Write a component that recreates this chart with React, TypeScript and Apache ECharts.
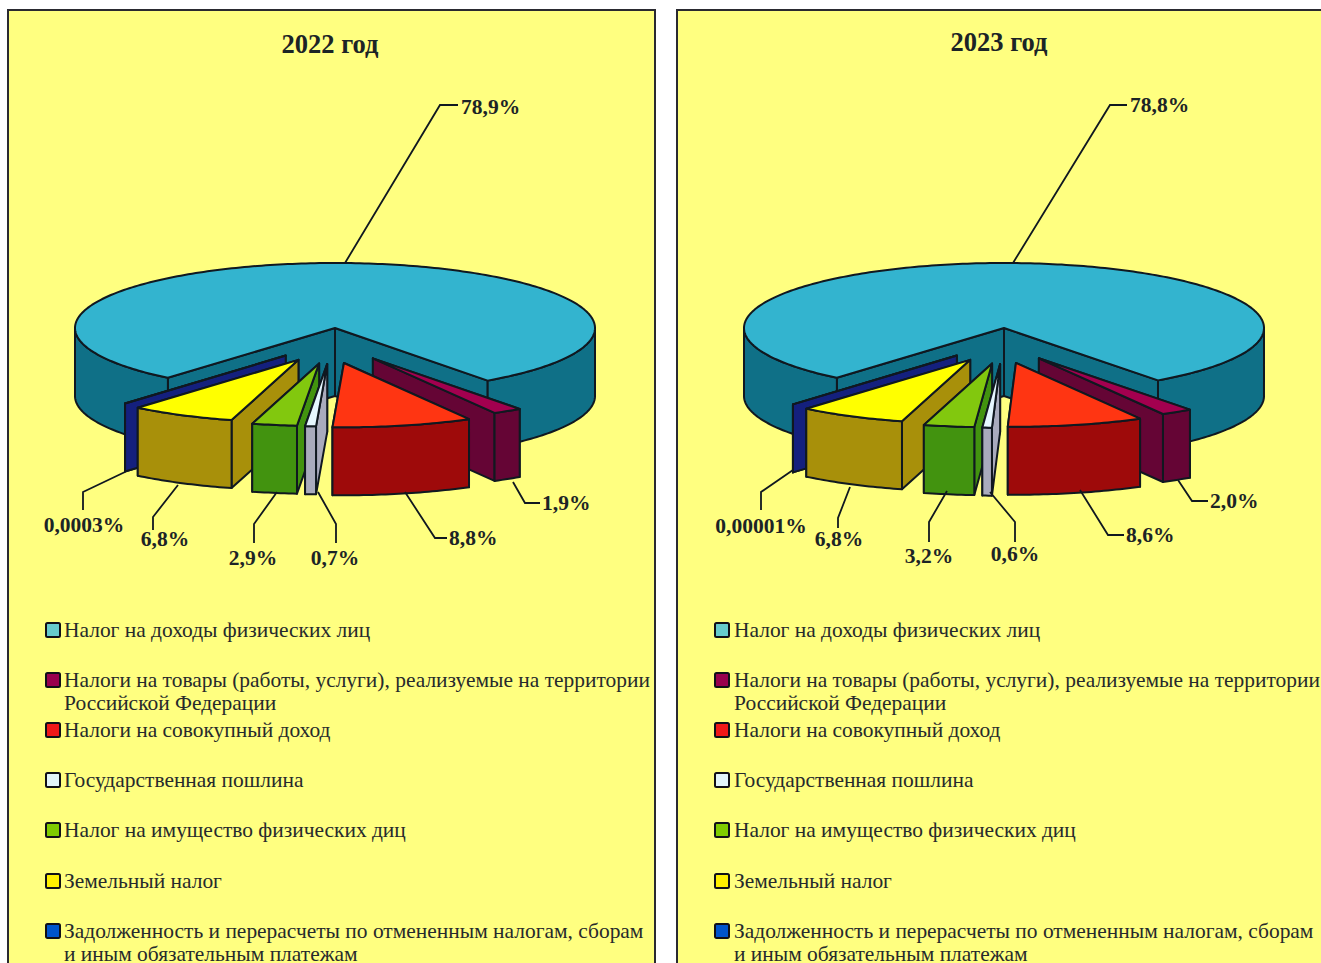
import React, { useEffect, useRef } from "react";
import * as echarts from "echarts";

const W = 1321;
const H = 963;

const years = ["2022 год", "2023 год"];
const values2022 = [78.9, 1.9, 8.8, 0.7, 2.9, 6.8, 0.0003];
const values2023 = [78.8, 2.0, 8.6, 0.6, 3.2, 6.8, 0.00001];
const labels2022 = ["78,9%", "1,9%", "8,8%", "0,7%", "2,9%", "6,8%", "0,0003%"];
const labels2023 = ["78,8%", "2,0%", "8,6%", "0,6%", "3,2%", "6,8%", "0,00001%"];
const categories = [
  ["Налог на доходы физических лиц"],
  ["Налоги на товары (работы, услуги), реализуемые на территории", "Российской Федерации"],
  ["Налоги на совокупный доход"],
  ["Государственная пошлина"],
  ["Налог на имущество физических диц"],
  ["Земельный налог"],
  ["Задолженность и перерасчеты по отмененным налогам, сборам", "и иным обязательным платежам"],
];
const topColors = ["#33B4CF", "#A3004F", "#FF3512", "#E6F7FF", "#82C80E", "#FFFF00", "#14207E"];
const sideColors = ["#0F7087", "#650535", "#9E0A0A", "#A9ABBD", "#42930F", "#A8900A", "#14207E"];
const legendColors = ["#66CCCC", "#99004D", "#F01818", "#E2F5FA", "#80CC00", "#FFF000", "#0055CC"];

const PANEL_FILL = "#FFFF80";
const INK = "#101820";
const SERIF = '"Liberation Serif", serif';

// Layout of the two panels
const panels = [
  {
    x: 8, w: 647, cx: 335, titleY: 44, legendBox: 45, legendText: 64,
    shift: -3,
    explodeX: [0, 76, 52, 72, 72, 72, 72],
    radii: [260, 250, 257, 250, 250, 250, 250],
  },
  {
    x: 677, w: 700, cx: 1004, titleY: 42, legendBox: 714, legendText: 734,
    shift: 3,
    explodeX: [0, 59, 38, 135, 88, 79, 78],
    radii: [260, 255, 255, 255, 255, 255, 255],
  },
];
const CY = 328;
const TILT = 0.25;
const DEPTH = 68;
const START_DEG = 130;
const EXPLODE_Y = 36;
const legendRows = [630, 680, 730, 780, 830, 881, 931];
const LEGEND_LINE = 23;
const drawOrder = [0, 6, 1, 5, 2, 4, 3];

const leaders2022 = [
  [[345, 263], [440, 105], [458, 105]],
  [[513, 482], [525, 503], [540, 503]],
  [[405, 492], [435, 538], [447, 538]],
  [[318, 492], [336, 524], [336, 543]],
  [[277, 492], [254, 524], [254, 543]],
  [[178, 485], [153, 517], [153, 530]],
  [[125, 472], [83, 492], [83, 510]],
];
const leaders2023 = [
  [[1013, 263], [1110, 105], [1127, 105]],
  [[1178, 480], [1192, 501], [1208, 501]],
  [[1080, 490], [1108, 535], [1124, 535]],
  [[990, 492], [1015, 522], [1015, 542]],
  [[947, 491], [929, 522], [929, 542]],
  [[850, 487], [838, 518], [838, 528]],
  [[793, 470], [761, 492], [761, 510]],
];
const labelAnchors2022: [number, number, string][] = [
  [461, 107, "left"], [542, 503, "left"], [449, 538, "left"], [335, 558, "center"],
  [253, 558, "center"], [165, 539, "center"], [84, 525, "center"],
];
const labelAnchors2023: [number, number, string][] = [
  [1130, 105, "left"], [1210, 501, "left"], [1126, 535, "left"], [1015, 554, "center"],
  [929, 556, "center"], [839, 539, "center"], [761, 526, "center"],
];

const rad = (d: number) => (d * Math.PI) / 180;

function sliceChildren(value: number, index: number, startDeg: number, panel: (typeof panels)[number]) {
  const span = value * 3.6;
  const endDeg = startDeg + span;
  const mid = rad((startDeg + endDeg) / 2);
  const isBig = index === 0;
  const r = panel.radii[index];
  const ax = panel.cx + (isBig ? 0 : panel.shift + panel.explodeX[index] * Math.cos(mid));
  const ay = CY + (isBig ? 0 : EXPLODE_Y * Math.sin(mid));
  const pt = (deg: number, dz = 0) => [
    ax + r * Math.cos(rad(deg)),
    ay + r * TILT * Math.sin(rad(deg)) + dz,
  ];
  const style = (fill: string) => ({
    fill,
    stroke: INK,
    lineWidth: 2,
    lineJoin: "round",
  });
  const poly = (points: number[][], fill: string) => ({
    type: "polygon",
    shape: { points },
    style: style(fill),
  });
  const children: any[] = [];
  const side = sideColors[index];
  // radial walls: the one that faces the viewer goes last
  const wall = (deg: number) => poly([[ax, ay], pt(deg), pt(deg, DEPTH), [ax, ay + DEPTH]], side);
  if (Math.cos(mid) < 0) children.push(wall(endDeg), wall(startDeg));
  else children.push(wall(startDeg), wall(endDeg));
  // outer wall: only the part that faces the viewer
  let run: number[] = [];
  const flush = () => {
    if (run.length > 1) {
      const upper = run.map((d) => pt(d));
      const lower = run.slice().reverse().map((d) => pt(d, DEPTH));
      children.push(poly(upper.concat(lower), side));
    }
    run = [];
  };
  const steps = Math.max(1, Math.ceil(span));
  for (let i = 0; i <= steps; i++) {
    const d = startDeg + (span * i) / steps;
    if (Math.sin(rad(d)) >= -1e-6) run.push(d);
    else flush();
  }
  flush();
  // top face
  const top: number[][] = [[ax, ay]];
  for (let i = 0; i <= steps; i++) top.push(pt(startDeg + (span * i) / steps));
  children.push(poly(top, topColors[index]));
  return children;
}

function pieSeries(values: number[], panel: (typeof panels)[number]) {
  const starts: number[] = [];
  let acc = START_DEG;
  values.forEach((v) => {
    starts.push(acc);
    acc += v * 3.6;
  });
  return {
    type: "custom",
    coordinateSystem: "none",
    silent: true,
    z: 5,
    data: drawOrder.map((i) => ({ name: categories[i][0], value: [i, values[i]] })),
    renderItem: (_params: any, api: any) => {
      const i = api.value(0);
      const children = sliceChildren(api.value(1), i, starts[i], panel);
      return { type: "group", children };
    },
  };
}

function labelSeries(labels: string[], leaders: number[][][], anchors: [number, number, string][]) {
  return {
    type: "custom",
    coordinateSystem: "none",
    silent: true,
    z: 6,
    data: labels.map((l, i) => ({ name: l, value: [i] })),
    renderItem: (_params: any, api: any) => {
      const i = api.value(0);
      return {
        type: "group",
        children: [
          {
            type: "polyline",
            shape: { points: leaders[i] },
            style: { fill: "none", stroke: INK, lineWidth: 1.8 },
          },
          {
            type: "text",
            style: {
              text: labels[i],
              x: anchors[i][0],
              y: anchors[i][1],
              align: anchors[i][2],
              verticalAlign: "middle",
              fill: "#1c2426",
              font: `bold 21.5px ${SERIF}`,
            },
          },
        ],
      };
    },
  };
}

function panelGraphics() {
  const out: any[] = [];
  panels.forEach((p, k) => {
    out.push({
      type: "rect",
      z: 0,
      shape: { x: p.x, y: 10, width: p.w, height: H + 40 },
      style: { fill: PANEL_FILL, stroke: "#2a2a30", lineWidth: 2 },
    });
    out.push({
      type: "text",
      z: 1,
      style: {
        text: years[k],
        x: p.cx - 5,
        y: p.titleY,
        align: "center",
        verticalAlign: "middle",
        fill: "#1c2426",
        font: `bold 26.5px ${SERIF}`,
      },
    });
    categories.forEach((lines, i) => {
      out.push({
        type: "rect",
        z: 1,
        shape: { x: p.legendBox + 1, y: legendRows[i] - 7, width: 14, height: 14, r: 1.5 },
        style: { fill: legendColors[i], stroke: "#101018", lineWidth: 2 },
      });
      lines.forEach((line, j) => {
        out.push({
          type: "text",
          z: 1,
          style: {
            text: line,
            x: p.legendText,
            y: legendRows[i] + j * LEGEND_LINE,
            align: "left",
            verticalAlign: "middle",
            fill: "#262a2c",
            font: `21.45px ${SERIF}`,
          },
        });
      });
    });
  });
  return out;
}

export default function App() {
  const ref = useRef<HTMLDivElement>(null);
  useEffect(() => {
    document.body.style.margin = "0";
    document.body.style.background = "#ffffff";
    document.body.style.overflow = "hidden";
    const chart = echarts.init(ref.current!, undefined, { renderer: "svg", width: W, height: H });
    chart.setOption({
      animation: false,
      backgroundColor: "#ffffff",
      graphic: { elements: panelGraphics() },
      series: [
        pieSeries(values2022, panels[0]),
        pieSeries(values2023, panels[1]),
        labelSeries(labels2022, leaders2022, labelAnchors2022),
        labelSeries(labels2023, leaders2023, labelAnchors2023),
      ],
    });
    return () => chart.dispose();
  }, []);
  return <div ref={ref} style={{ width: W, height: H }} />;
}
